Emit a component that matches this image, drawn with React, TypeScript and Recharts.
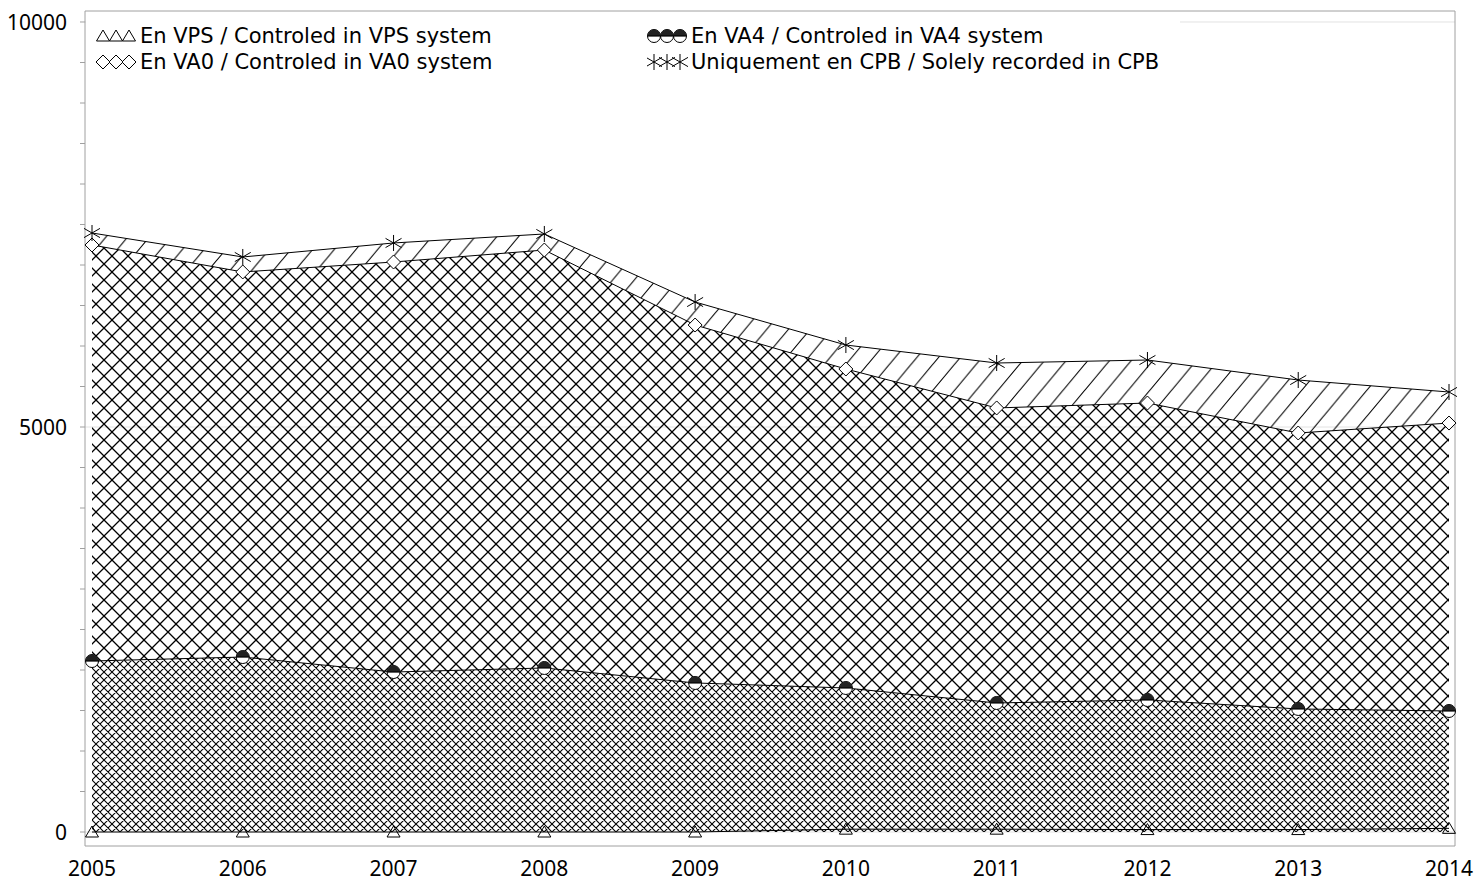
import React from 'react';
import { AreaChart, Area, XAxis, YAxis, CartesianGrid } from 'recharts';

const years = ['2005', '2006', '2007', '2008', '2009', '2010', '2011', '2012', '2013', '2014'];
const vps = [0, 0, 0, 0, 0, 35, 35, 30, 30, 45];
const va4 = [2111, 2160, 1975, 2025, 1840, 1743, 1558, 1600, 1489, 1449];
const va0 = [5136, 4754, 5062, 5160, 4419, 3938, 3642, 3666, 3407, 3555];
const cpb = [148, 185, 235, 198, 284, 296, 555, 531, 654, 383];
const yTicks = [0, 500, 1000, 1500, 2000, 2500, 3000, 3500, 4000, 4500, 5000, 5500, 6000, 6500, 7000, 7500, 8000, 8500, 9000, 9500, 10000];
const yLabelTicks = [0, 5000, 10000];

const nameVPS = 'En VPS / Controled in VPS system';
const nameVA4 = 'En VA4 / Controled in VA4 system';
const nameVA0 = 'En VA0 / Controled in VA0 system';
const nameCPB = 'Uniquement en CPB / Solely recorded in CPB';

const data = years.map((y, i) => ({ year: y, vps: vps[i], va4: va4[i], va0: va0[i], cpb: cpb[i] }));

const FONT = '"Noto Sans", "DejaVu Sans", sans-serif';
const LFONT = '"DejaVu Sans", "Noto Sans", sans-serif';
const FRAME = '#a0a0a0';

const Tri = ({ cx, cy }: any) => (
  <path d={`M${cx},${cy - 6} L${cx + 6.5},${cy + 5} L${cx - 6.5},${cy + 5} Z`} fill="none" stroke="#000" strokeWidth={1} />
);
const Dia = ({ cx, cy }: any) => (
  <path d={`M${cx},${cy - 7} L${cx + 7},${cy} L${cx},${cy + 7} L${cx - 7},${cy} Z`} fill="#fff" stroke="#000" strokeWidth={1} />
);
const Circ = ({ cx, cy }: any) => (
  <g>
    <circle cx={cx} cy={cy} r={6.5} fill="#fff" stroke="#000" strokeWidth={1} />
    <path d={`M${cx - 6.5},${cy} A6.5,6.5 0 0 1 ${cx + 6.5},${cy} Z`} fill="#222" />
    <line x1={cx - 6.5} y1={cy} x2={cx + 6.5} y2={cy} stroke="#000" strokeWidth={1.2} />
  </g>
);
const Star = ({ cx, cy }: any) => (
  <path
    d={`M${cx},${cy - 8} L${cx},${cy + 8} M${cx - 8},${cy - 4.6} L${cx + 8},${cy + 4.6} M${cx - 8},${cy + 4.6} L${cx + 8},${cy - 4.6}`}
    fill="none"
    stroke="#000"
    strokeWidth={1}
  />
);

const markers: Record<string, any> = { vps: Tri, va4: Circ, va0: Dia, cpb: Star };

const YTick = (props: any) => {
  const { x, y, payload } = props;
  if (!yLabelTicks.includes(payload.value)) return <g />;
  return (
    <text x={x} y={y} dy="0.36em" textAnchor="end" fontSize={21} fontFamily={FONT} fill="#000">
      {payload.value}
    </text>
  );
};

const legendItems = [
  { key: 'vps', name: nameVPS, left: 10, top: 24 },
  { key: 'va4', name: nameVA4, left: 561, top: 24 },
  { key: 'va0', name: nameVA0, left: 10, top: 50 },
  { key: 'cpb', name: nameCPB, left: 561, top: 50 },
];

const LegendSymbol = ({ k }: { k: string }) => {
  const M = markers[k];
  return (
    <svg width={42} height={22} style={{ display: 'block' }}>
      <M cx={7} cy={11} />
      <M cx={20} cy={11} />
      <M cx={33} cy={11} />
    </svg>
  );
};

export default function App() {
  return (
    <div style={{ position: 'absolute', left: 0, top: 0, width: 1474, height: 881, background: '#fff' }}>
      <AreaChart width={1474} height={881} data={data} margin={{ top: 10, right: 18, bottom: 0, left: 0 }}>
        <defs>
          <pattern id="dense" patternUnits="userSpaceOnUse" width="8" height="8">
            <path d="M0,0 L8,8 M8,0 L0,8 M-1,1 L1,-1 M7,9 L9,7 M-1,7 L1,9 M7,-1 L9,1" stroke="#000" strokeWidth={1.1} fill="none" />
          </pattern>
          <pattern id="sparse" patternUnits="userSpaceOnUse" width="16" height="16">
            <path d="M0,0 L16,16 M16,0 L0,16 M-1,1 L1,-1 M15,17 L17,15 M-1,15 L1,17 M15,-1 L17,1" stroke="#000" strokeWidth={1.3} fill="none" />
          </pattern>
          <pattern id="hatch" patternUnits="userSpaceOnUse" width="21.7" height="26">
            <path d="M0,26 L21.7,0 M-1,1.2 L1,-1.2 M20.7,27.2 L22.7,24.8" stroke="#000" strokeWidth={1.1} fill="none" />
          </pattern>
        </defs>
        <CartesianGrid vertical={false} horizontalValues={[0, 5000, 10000]} stroke="#e2e2e2" />
        <XAxis
          dataKey="year"
          padding={{ left: 7, right: 6 }}
          tickLine={false}
          tickSize={0}
          tickMargin={15}
          height={35}
          axisLine={{ stroke: FRAME }}
          tick={{ fontSize: 21, fontFamily: FONT, fill: '#000' }}
          interval={0}
        />
        <XAxis xAxisId="top" dataKey="year" orientation="top" height={1} tick={false} tickLine={false} axisLine={{ stroke: FRAME }} />
        <YAxis
          type="number"
          domain={[-172.8, 10135.8]}
          allowDataOverflow
          ticks={yTicks}
          interval={0}
          width={85}
          tickSize={5}
          tickMargin={13}
          tickLine={{ stroke: FRAME }}
          axisLine={{ stroke: FRAME }}
          tick={<YTick />}
        />
        <YAxis yAxisId="right" orientation="right" width={1} tick={false} tickLine={false} axisLine={{ stroke: FRAME }} />
        <Area
          type="linear"
          dataKey="vps"
          name={nameVPS}
          stackId="s"
          stroke="#000"
          strokeWidth={1}
          fill="url(#dense)"
          fillOpacity={1}
          dot={(p: any) => <Tri key={`t${p.index}`} cx={p.cx} cy={p.cy} />}
          activeDot={false}
          isAnimationActive={false}
        />
        <Area
          type="linear"
          dataKey="va4"
          name={nameVA4}
          stackId="s"
          stroke="#000"
          strokeWidth={1}
          fill="url(#dense)"
          fillOpacity={1}
          dot={(p: any) => <Circ key={`c${p.index}`} cx={p.cx} cy={p.cy} />}
          activeDot={false}
          isAnimationActive={false}
        />
        <Area
          type="linear"
          dataKey="va0"
          name={nameVA0}
          stackId="s"
          stroke="#000"
          strokeWidth={1}
          fill="url(#sparse)"
          fillOpacity={1}
          dot={(p: any) => <Dia key={`d${p.index}`} cx={p.cx} cy={p.cy} />}
          activeDot={false}
          isAnimationActive={false}
        />
        <Area
          type="linear"
          dataKey="cpb"
          name={nameCPB}
          stackId="s"
          stroke="#000"
          strokeWidth={1}
          fill="url(#hatch)"
          fillOpacity={1}
          dot={(p: any) => <Star key={`s${p.index}`} cx={p.cx} cy={p.cy} />}
          activeDot={false}
          isAnimationActive={false}
        />
      </AreaChart>
      <div style={{ position: 'absolute', left: 86, top: 12, width: 1094, height: 68, background: '#fff', fontFamily: LFONT, fontSize: 21, color: '#000' }}>
        {legendItems.map((it) => (
          <div key={it.key} style={{ position: 'absolute', left: it.left, top: it.top - 12, height: 24, display: 'flex', alignItems: 'center', whiteSpace: 'nowrap' }}>
            <LegendSymbol k={it.key} />
            <span style={{ marginLeft: 2, lineHeight: '24px' }}>{it.name}</span>
          </div>
        ))}
      </div>
    </div>
  );
}
